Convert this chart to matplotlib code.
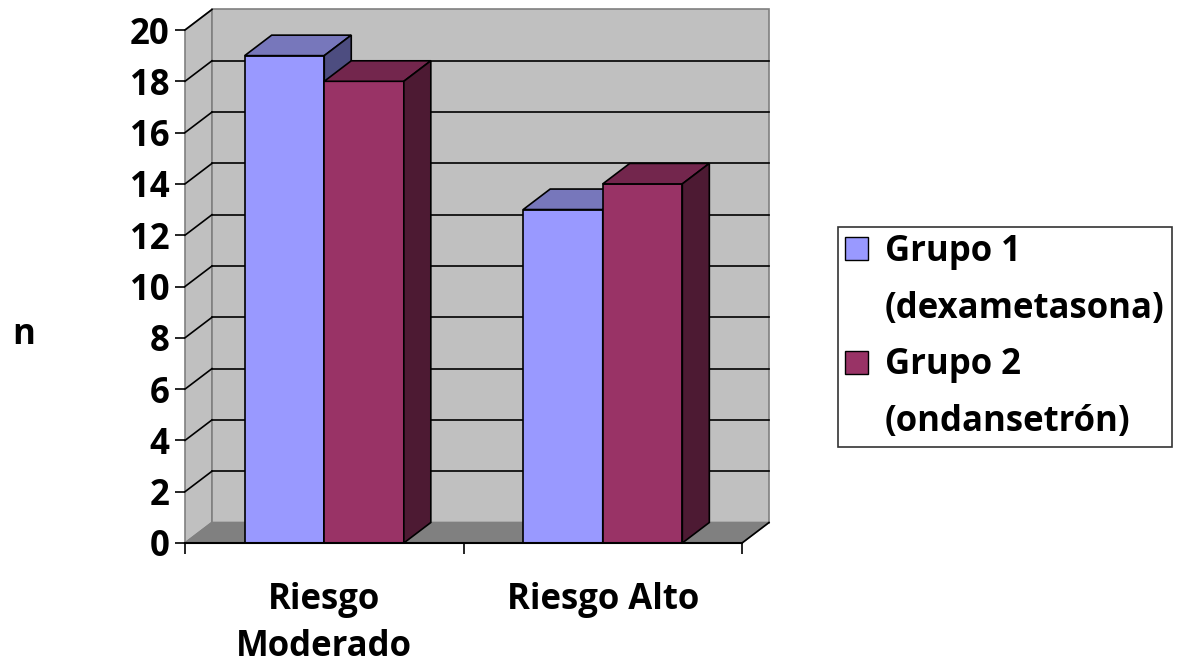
import matplotlib
matplotlib.use('Agg')
from matplotlib import pyplot as plt
from matplotlib.patches import Polygon, Patch

categories = ['Riesgo\nModerado', 'Riesgo Alto']
series_names = [('Grupo 1', '(dexametasona)'), ('Grupo 2', '(ondansetrón)')]
grupo1 = [19, 13]
grupo2 = [18, 14]
yticks = list(range(0, 21, 2))

# face colours: front, top, side
colors = [('#9999FF', '#7777BB', '#4D4D80'),
          ('#993366', '#73264D', '#4D1A33')]
wall = '#C0C0C0'
floor = '#808080'

plt.rcParams['font.family'] = ['Open Sans', 'DejaVu Sans']
plt.rcParams['font.weight'] = 'bold'

fig = plt.figure(figsize=(11.88, 6.65), dpi=100)
ax = fig.add_axes([185 / 1188, 1 - 543 / 665, 557 / 1188, 513 / 665])
ax.set_xlim(0, 2)
ax.set_ylim(0, 20)

# depth offset of the 3d look, in data units
dx = 27 / 557 * 2
dy = 20.5 / 513 * 20
ymax = 20

def poly(pts, fc, ec='black', lw=1.2, z=1):
    p = Polygon(pts, closed=True, facecolor=fc, edgecolor=ec, linewidth=lw,
                clip_on=False, zorder=z)
    ax.add_patch(p)

# walls and floor
poly([(0, 0), (0, ymax), (dx, ymax + dy), (dx, dy)], wall, ec='#808080', z=1)
poly([(dx, dy), (dx, ymax + dy), (2 + dx, ymax + dy), (2 + dx, dy)], wall, ec='#808080', z=1)
poly([(0, 0), (2, 0), (2 + dx, dy), (dx, dy)], floor, ec='#808080', z=1)
ax.plot([2, 2 + dx], [0, dy], color='black', lw=1.2, clip_on=False, zorder=2)

for v in yticks[1:]:
    ax.plot([0, dx], [v, v + dy], color='black', lw=1.2, clip_on=False, zorder=2)
    if v < ymax:
        ax.plot([dx, 2 + dx], [v + dy, v + dy], color='black', lw=1.2,
                clip_on=False, zorder=2)

# bars
w = 1 / 3.5
for i in range(len(categories)):
    for j, vals in enumerate([grupo1, grupo2]):
        x0 = i + 0.75 * w + j * w
        x1 = x0 + w
        h = vals[i]
        front, top, side = colors[j]
        z = 3 + j
        poly([(x0, 0), (x1, 0), (x1, h), (x0, h)], front, z=z)
        poly([(x0, h), (x1, h), (x1 + dx, h + dy), (x0 + dx, h + dy)], top, z=z)
        poly([(x1, 0), (x1 + dx, dy), (x1 + dx, h + dy), (x1, h)], side, z=z)

ax.spines['top'].set_visible(False)
ax.spines['right'].set_visible(False)
ax.spines['left'].set_visible(False)
ax.spines['bottom'].set_linewidth(1.5)
ax.spines['bottom'].set_zorder(10)
ax.patch.set_visible(False)

ax.set_yticks(yticks)
ax.set_yticklabels([str(v) for v in yticks], fontsize=25, fontweight='bold')
ax.tick_params(axis='y', direction='out', length=7, width=1.2, pad=4)
ax.set_xticks([0, 1, 2])
ax.set_xticklabels(['', '', ''])
ax.tick_params(axis='x', which='major', direction='out', length=8, width=1.2)
ax.set_xticks([0.5, 1.5], minor=True)
ax.set_xticklabels(categories, minor=True, fontsize=25, fontweight='bold',
                   linespacing=1.42)
ax.tick_params(axis='x', which='minor', length=0, pad=28)

fig.text(24 / 1188, 1 - 335 / 665, 'n', fontsize=25, fontweight='bold',
         ha='center', va='center')

# legend: one entry per text line, swatch only on the first line
handles, labels = [], []
for k, (l1, l2) in enumerate(series_names):
    handles.append(Patch(facecolor=colors[k][0], edgecolor='black', linewidth=1))
    labels.append(l1)
    handles.append(Patch(facecolor='none', edgecolor='none'))
    labels.append(l2)
leg = fig.legend(handles, labels, loc='center left',
                 bbox_to_anchor=(838 / 1188, 1 - 337 / 665),
                 prop={'size': 25, 'weight': 'bold'},
                 frameon=True, fancybox=False, edgecolor='black',
                 handlelength=0.65, handleheight=0.65, handletextpad=0.5,
                 borderpad=0.2, labelspacing=0.6, borderaxespad=0)
leg.get_frame().set_linewidth(1.2)

fig.savefig('out.png', dpi=100)
